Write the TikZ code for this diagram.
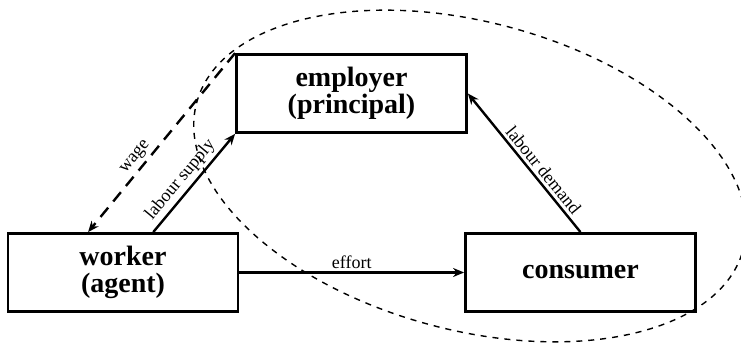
\documentclass[tikz,border=0pt]{standalone}
\usepackage{fontspec}
\setmainfont{Liberation Serif}
\usetikzlibrary{arrows.meta,calc}
\begin{document}
\begin{tikzpicture}[x=0.5pt,y=0.5pt,
    party/.style={draw,line width=1.4pt,minimum width=115pt,minimum height=39pt,
      align=center,font=\fontsize{14}{13.5}\selectfont\bfseries},
    flow/.style={line width=1.2pt,-{Stealth[length=5.5pt,width=4.5pt]}},
    flowlabel/.style={font=\fontsize{9}{10}\selectfont,sloped,above,inner sep=1.5pt}]
    \useasboundingbox (0,0) rectangle (741,-353);
    % agents
    \node[party] (worker) at (123,-272.5) {worker\\(agent)};
    \node[party] (employer) at (351.5,-93.5) {employer\\(principal)};
    \node[party] (consumer) at (580.5,-272.5) {consumer};
    % the firm side
    \draw[dashed,line width=0.7pt] (470,-176) ellipse [x radius=141.5pt,y radius=77pt,rotate=-15];
    % flows
    \draw[flow,dash pattern=on 6pt off 4pt] (employer.north west) --
      node[flowlabel,pos=0.62] {wage} ($(worker.north west)!0.35!(worker.north east)$);
    \draw[flow] ($(worker.north west)!0.63!(worker.north east)$) --
      node[flowlabel,pos=0.45] {labour supply} (employer.south west);
    \draw[flow] (consumer.north) -- node[flowlabel,pos=0.4] {labour demand} (employer.east);
    \draw[flow] (worker.east) -- node[flowlabel] {effort} (consumer.west);
  \end{tikzpicture}
\end{document}
